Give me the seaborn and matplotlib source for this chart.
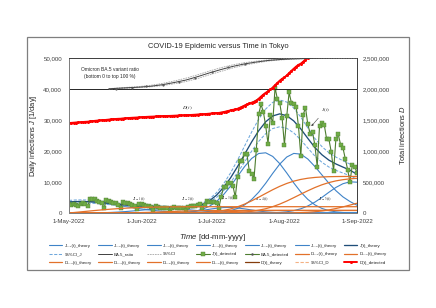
import numpy as np
import pandas as pd
import matplotlib
matplotlib.use("Agg")
import matplotlib.pyplot as plt
import seaborn as sns
from matplotlib.ticker import FuncFormatter
from matplotlib.patches import Rectangle
from matplotlib.lines import Line2D

# ---- data ----
# smooth theory curves: every 3rd day from 1-May-2022 (day 0) to 1-Sep-2022 (day 123)
grid_days = list(range(0, 124, 3))

j11 = [3560, 3690, 3700, 3610, 3430, 3170, 2850, 2490, 2120, 1750, 1410, 1100, 840, 620,
       447, 313, 213, 141, 91, 57, 35, 20, 12, 7] + [0] * 18
j12 = [0, 0, 0, 32, 62, 112, 189, 302, 455, 641, 850, 1057, 1235, 1357, 1400, 1357, 1235,
       1057, 850, 641, 455, 302, 189, 112, 62, 32, 15] + [0] * 15
j13 = [0] * 14 + [29, 68, 151, 302, 536, 853, 1213, 1541, 1757, 1789, 1631, 1332, 972, 634,
                  371, 194, 90, 36, 14] + [0] * 9
j14 = [0] * 15 + [50, 120, 280, 600, 1190, 2180, 3720, 5910, 8680, 11840, 14980, 17590, 19190,
                  19420, 18250, 15930, 12910, 9690, 6770, 4390, 2630, 1480, 760, 370, 160, 70, 25]
j15 = [0] * 19 + [25, 70, 160, 370, 750, 1470, 2610, 4340, 6700, 9590, 12780, 15770, 18060,
                  19220, 18990, 17410, 15000, 12300, 9600, 7200, 5200, 3700, 2500]
j16 = [0] * 28 + [35, 85, 190, 390, 770, 1360, 2270, 3500, 5020, 6690, 8250, 9450, 10060, 9940]

j_theory = [3560, 3690, 3700, 3640, 3490, 3280, 3040, 2790, 2575, 2390, 2260, 2157, 2075, 1977,
            1876, 1788, 1719, 1780, 2077, 2766, 3953, 5743, 8238, 11338, 15003, 18954, 22917,
            26524, 29416, 31309, 31980, 31396, 29694, 27120, 24070, 21130, 18800, 17050, 15820,
            14810, 13830, 12465]
j_ci_hi = [4060, 4210, 4220, 4150, 3980, 3740, 3470, 3180, 2940, 2720, 2580, 2460, 2370, 2250,
           2140, 2040, 1960, 2030, 2370, 3150, 4510, 6550, 9390, 12930, 17100, 21610, 26130,
           30240, 33530, 35690, 36460, 35790, 33850, 30920, 27440, 24090, 21430, 19440, 18030,
           16880, 15770, 14210]
j_ci_lo = [3100, 3210, 3220, 3170, 3040, 2850, 2640, 2430, 2240, 2080, 1970, 1880, 1810, 1720,
           1630, 1560, 1500, 1550, 1810, 2410, 3440, 5000, 7170, 9860, 13050, 16490, 19940,
           23080, 25590, 27240, 27820, 27310, 25830, 23590, 20940, 18380, 16360, 14830, 13760,
           12880, 12030, 10840]

d11 = [0, 10900, 22000, 32900, 43500, 53400, 62400, 70400, 77300, 83100, 87900, 91700, 94600,
       96800, 98400, 99500, 100300, 100800, 101200, 101400, 101500, 101600] + [101700] * 20
d12 = [0, 20, 60, 130, 260, 510, 960, 1690, 2810, 4460, 6680, 9540, 13000, 16880, 21050, 25220,
       29100, 32560, 35400, 37600, 39300, 40400, 41100, 41600, 41850, 41970] + [42050] * 16
d13 = [0] * 14 + [80, 210, 540, 1190, 2410, 4510, 7590, 11690, 16770, 22090, 27200, 31750,
                  35200, 37560, 39060, 39910, 40300, 40490, 40560] + [40600] * 9
d14 = [0] * 15 + [300, 700, 1600, 3500, 7000, 13400, 24200, 41000, 65500, 99900, 143400, 195900,
                  254200, 315400, 375300, 430000, 476700, 513900, 541600, 561000, 573500,
                  581200, 585600, 587900, 589100, 589600, 589800]
d15 = [0] * 20 + [400, 1000, 2200, 4400, 8600, 15600, 27100, 44500, 69000, 102600, 143600,
                  192700, 247400, 303800, 359100, 410400, 454900, 490800, 518100, 537500,
                  551200, 559200]
d16 = [0] * 28 + [100, 280, 660, 1500, 3200, 6300, 11500, 20300, 32800, 49900, 72300, 98700,
                  127900, 157400]
d_theory = [1451000, 1459000, 1467000, 1477000, 1490000, 1499000, 1510000, 1519000, 1527000,
            1536000, 1542000, 1550000, 1555000, 1560500, 1565000, 1569000, 1574000, 1579000,
            1586000, 1592000, 1602000, 1612000, 1627000, 1655000, 1681000, 1733000, 1779000,
            1842000, 1938000, 2021000, 2133000, 2218000, 2327000, 2408000, 2502000]

# daily detected infections J(t), 1-May .. 1-Sep
j_detected = [2900, 2500, 3000, 2600, 2400, 2800, 3200, 3000, 2100, 4500,
              4500, 4400, 3900, 3700, 3100, 1700, 4100, 3800, 3600, 3200,
              3200, 2600, 1500, 3600, 3200, 3200, 2900, 2600, 2100, 1200,
              2900, 2900, 2600, 2300, 2100, 1800, 900, 2100, 2000, 1700,
              1600, 1500, 1500, 700, 1600, 1900, 1700, 1600, 1600, 1500,
              1100, 2000, 2100, 2300, 2400, 2500, 2800, 1500, 2500, 3800,
              3500, 3500, 3600, 3100, 1600, 5300, 8300, 8500, 9700, 9700,
              8800, 5200, 11500, 16700, 16900, 19100, 18900, 13600, 12700, 11000,
              20400, 31900, 35000, 32700, 28100, 22400, 31600, 29000, 40400, 36800,
              35500, 30800, 22000, 31300, 38900, 35500, 35000, 34300, 28000, 18400,
              31600, 34000, 28600, 25600, 26000, 22000, 15000, 28000, 29000, 28500,
              24000, 23800, 19700, 13600, 24000, 25400, 22000, 21000, 17500, 14000,
              10000, 15500, 15000, 13000]

# total detected infections D(t) (goes off the top after ~10-Aug)
d_detected = [1451000, 1453500, 1456500, 1459100, 1461500, 1464300, 1467500, 1470500, 1472600, 1477100,
              1481600, 1486000, 1489900, 1493600, 1496700, 1498400, 1502500, 1506300, 1509900, 1513100,
              1516300, 1518900, 1520400, 1524000, 1527200, 1530400, 1533300, 1535900, 1538000, 1539200,
              1542100, 1545000, 1547600, 1549900, 1552000, 1553800, 1554700, 1556800, 1558800, 1560500,
              1562100, 1563600, 1565100, 1565800, 1567400, 1569300, 1571000, 1572600, 1574200, 1575700,
              1576800, 1578800, 1580900, 1583200, 1585600, 1588100, 1590900, 1592400, 1594900, 1598700,
              1602200, 1605700, 1609300, 1612400, 1614000, 1619300, 1627600, 1636100, 1645800, 1655500,
              1664300, 1669500, 1681000, 1697700, 1714600, 1733700, 1752600, 1766200, 1778900, 1789900,
              1810300, 1842200, 1877200, 1909900, 1938000, 1960400, 1992000, 2021000, 2061400, 2098200,
              2133700, 2164500, 2186500, 2217800, 2256700, 2292200, 2327200, 2361500, 2389500, 2407900,
              2439500, 2473500, 2502100, 2527700]

# Omicron BA.5 share (0..1), drawn in the 40,000-50,000 band
ba5_days = [17, 20, 25, 30, 35, 40, 45, 50, 55, 60, 65, 70, 75, 80, 85, 90, 95, 100, 105, 110, 115, 123]
ba5_ratio = [0.005, 0.02, 0.04, 0.06, 0.09, 0.14, 0.21, 0.29, 0.40, 0.52, 0.63, 0.73, 0.81, 0.87,
             0.92, 0.95, 0.97, 0.98, 0.99, 0.995, 1.0, 1.0]
ba5_ci_hi = [0.01, 0.03, 0.055, 0.08, 0.12, 0.18, 0.26, 0.35, 0.46, 0.58, 0.69, 0.78, 0.85, 0.90,
             0.94, 0.965, 0.98, 0.99, 0.995, 1.0, 1.0, 1.0]
ba5_ci_lo = [0.0, 0.01, 0.025, 0.045, 0.07, 0.11, 0.17, 0.24, 0.34, 0.46, 0.57, 0.68, 0.77, 0.84,
             0.90, 0.935, 0.96, 0.975, 0.985, 0.99, 0.995, 1.0]
ba5_det_days = [20, 27, 33, 40, 47, 54, 61, 68, 75]
ba5_det = [0.0, 0.03, 0.10, 0.13, 0.22, 0.36, 0.55, 0.70, 0.80]

tick_days = [0, 31, 61, 92, 123]
tick_labels = ["1-May-2022", "1-Jun-2022", "1-Jul-2022", "1-Aug-2022", "1-Sep-2022"]

sub_labels = ["1-1", "1-2", "1-3", "1-4", "1-5"]
sub_label_pos = [(30, 4350), (51, 4500), (68, 4840), (82.5, 4500), (109.5, 4500)]

# ---- styling ----
sns.set_theme(style="white")
plt.rcParams["font.family"] = ["Liberation Sans", "DejaVu Sans"]
plt.rcParams["mathtext.fontset"] = "custom"
plt.rcParams["mathtext.it"] = "Liberation Sans:italic"
plt.rcParams["mathtext.rm"] = "Liberation Sans"

BLUE = "#3f83c8"
DARK_BLUE = "#1f4e79"
ORANGE = "#e2712a"
GREEN_L = "#70ad47"
GREEN_D = "#4e7d30"
GRAY = "#595959"

fig = plt.figure(figsize=(4.36, 3.08), dpi=100)
ax = fig.add_axes([69 / 436, 1 - 213 / 308, 288 / 436, 155 / 308])
ax2 = ax.twinx()
ax3 = ax.twinx()

handles = {}


def draw(axis, x, y, label, **kw):
    sns.lineplot(x=x, y=y, ax=axis, legend=False, **kw)
    line = axis.lines[-1]
    line.set_label(label)
    handles[label] = line


jk = [j11, j12, j13, j14, j15, j16]
for i, series in enumerate(jk):
    draw(ax, grid_days, series, f"J₁₋{i + 1}(t)_theory", color=BLUE, lw=0.8)
draw(ax, grid_days, j_ci_hi, "95%CI_J", color="#6fa8dc", lw=0.75, linestyle=(0, (3, 1.5)))
draw(ax, grid_days, j_ci_lo, "95%CI_J_lo", color="#6fa8dc", lw=0.75, linestyle=(0, (3, 1.5)))
draw(ax, grid_days, j_theory, "J(t)_theory", color=DARK_BLUE, lw=0.95)
draw(ax, list(range(len(j_detected))), j_detected, "J(t)_detected", color=GREEN_D, lw=0.8,
     marker="s", markersize=2.4, markerfacecolor=GREEN_L, markeredgecolor=GREEN_D,
     markeredgewidth=0.3)
ax.axhline(40000, color="#262626", lw=0.7)

dk = [d11, d12, d13, d14, d15, d16]
for i, series in enumerate(dk):
    draw(ax2, grid_days, series, f"D₁₋{i + 1}(t)_theory", color=ORANGE, lw=0.9)
draw(ax2, grid_days[:len(d_theory)], d_theory, "D(t)_theory", color="#843c0c", lw=0.9)
draw(ax2, list(range(len(d_detected))), d_detected, "D(t)_detected", color="#ff0000", lw=1.4,
     marker="o", markersize=2.2, markeredgewidth=0)

draw(ax3, ba5_days, ba5_ci_hi, "95%CI", color="#a6a6a6", lw=0.6, linestyle=(0, (2, 1)))
draw(ax3, ba5_days, ba5_ci_lo, "95%CI_lo", color="#a6a6a6", lw=0.6, linestyle=(0, (2, 1)))
draw(ax3, ba5_days, ba5_ratio, "BA.5_ratio", color="#404040", lw=0.7)
draw(ax3, ba5_det_days, ba5_det, "BA.5_detected", color=GRAY, lw=0, marker="o",
     markersize=1.6, markeredgewidth=0)

# axes
ax.set_xlim(0, 123)
ax.set_ylim(0, 50000)
ax2.set_ylim(0, 2500000)
ax3.set_ylim(-4, 1)
ax3.axis("off")

ax.set_yticks(range(0, 50001, 10000))
ax2.set_yticks(range(0, 2500001, 500000))
ax.yaxis.set_major_formatter(FuncFormatter(lambda v, p: f"{v:,.0f}"))
ax2.yaxis.set_major_formatter(FuncFormatter(lambda v, p: f"{v:,.0f}"))
ax.set_xticks(tick_days, tick_labels)
ax.tick_params(axis="y", length=0, labelsize=4.4, pad=5, colors="#404040")
ax.tick_params(axis="x", length=0, labelsize=4.4, pad=4, colors="#404040")
ax2.tick_params(axis="y", length=0, labelsize=4.4, pad=4, colors="#404040")

for a in (ax, ax2):
    for s in a.spines.values():
        s.set_color("#7f7f7f")
        s.set_linewidth(0.7)
ax2.spines["right"].set_color("#404040")
ax2.spines["top"].set_color("#404040")

ax.set_xlabel("$Time$ [dd-mm-yyyy]", fontsize=5.6, color="#262626")
ax.xaxis.set_label_coords(0.5, -0.125)
ax.set_ylabel("Daily infections $J$ [1/day]", fontsize=5.4, color="#262626")
ax.yaxis.set_label_coords(-0.104, 0.5)
ax2.set_ylabel("Total infections $D$", fontsize=5.4, color="#262626", rotation=90)
ax2.yaxis.set_label_coords(1.142, 0.5)

# annotations
ax.text(17.5, 45200, "Omicron BA.5 variant ratio\n(bottom 0 to top 100 %)", fontsize=3.5,
        ha="center", va="center", color="#262626", linespacing=1.4)
ax.text(50.5, 33800, "$D(t)$", fontsize=3.8, math_fontfamily="stix", ha="center", va="center")
ax.annotate("$J(t)$", xy=(103.5, 28000), xytext=(109.5, 33200), fontsize=3.8,
            math_fontfamily="stix", ha="center", va="center",
            arrowprops=dict(arrowstyle="-|>", lw=0.4, color="#404040", mutation_scale=3,
                            shrinkA=1, shrinkB=0))
for lab, (dx, dy) in zip(sub_labels, sub_label_pos):
    ax.text(dx, dy, f"$J_{{{lab}}}(t)$", fontsize=3.2, math_fontfamily="stix",
            ha="center", va="center", color="#262626")

fig.text(0.5, 1 - 47 / 308, "COVID-19 Epidemic versus Time in Tokyo", fontsize=5.4,
         ha="center", va="center", color="#262626")

# legend (row-major order like the reference)
ba5_proxy = Line2D([], [], color=GREEN_D, lw=0.8, marker="o", markersize=1.8,
                   markerfacecolor=GRAY, markeredgewidth=0)
ci_d_proxy = Line2D([], [], color="#f4b183", lw=0.8, linestyle=(0, (3, 1.5)))
rows = [
    [handles[f"J₁₋{i}(t)_theory"] for i in range(1, 7)] + [handles["J(t)_theory"]],
    [handles["95%CI_J"], handles["BA.5_ratio"], handles["95%CI"], handles["J(t)_detected"],
     ba5_proxy, handles["D₁₋1(t)_theory"], handles["D₁₋2(t)_theory"]],
    [handles[f"D₁₋{i}(t)_theory"] for i in range(3, 7)] + [handles["D(t)_theory"], ci_d_proxy,
                                                          handles["D(t)_detected"]],
]
row_labels = [
    [f"J₁₋{s}(t)_theory" for s in "₁₂₃₄₅₆"] + ["J(t)_theory"],
    ["95%CI_J", "BA.5_ratio", "95%CI", "J(t)_detected", "BA.5_detected", "D₁₋₁(t)_theory",
     "D₁₋₂(t)_theory"],
    [f"D₁₋{s}(t)_theory" for s in "₃₄₅₆"] + ["D(t)_theory", "95%CI_D", "D(t)_detected"],
]
leg_h = [rows[r][c] for c in range(7) for r in range(3)]
leg_l = [row_labels[r][c] for c in range(7) for r in range(3)]
fig.legend(leg_h, leg_l, ncol=7, loc="center", bbox_to_anchor=(0.5, 1 - 254 / 308),
           frameon=False, fontsize=3.2, handlelength=3.0, handletextpad=0.5,
           columnspacing=1.4, labelspacing=1.0, borderaxespad=0)

fig.patches.append(Rectangle((27 / 436, 1 - 270 / 308), 382 / 436, 233 / 308,
                             transform=fig.transFigure, fill=False, ec="#7f7f7f", lw=0.9))

fig.savefig("out.png", dpi=100)
